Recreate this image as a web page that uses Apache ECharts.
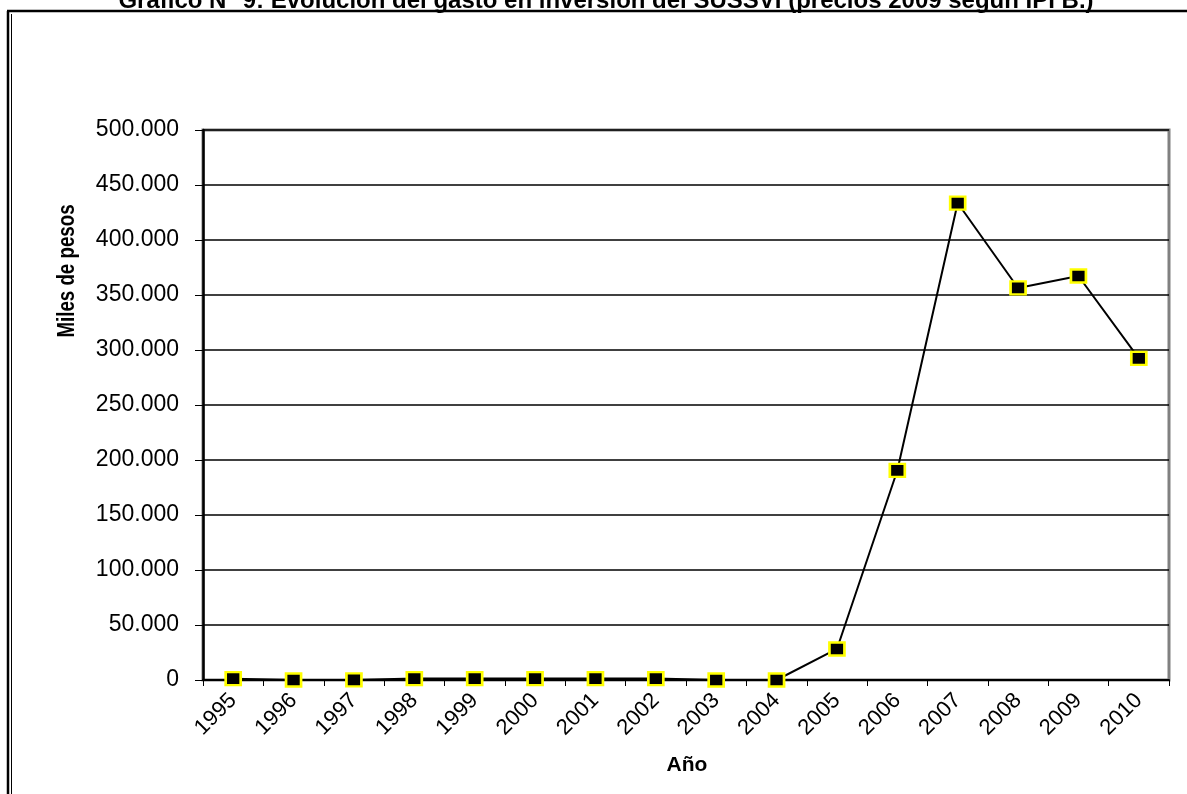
<!DOCTYPE html>
<html>
<head>
<meta charset="utf-8">
<script src="https://cdn.jsdelivr.net/npm/echarts@6/dist/echarts.min.js"></script>
<style>
  html, body { margin: 0; padding: 0; background: #fff; }
  #chart { width: 1187px; height: 794px; }
</style>
</head>
<body>
<div id="chart"></div>
<script>
// Investment spending, thousands of pesos (2009 prices)
const years = ['1995','1996','1997','1998','1999','2000','2001','2002','2003','2004','2005','2006','2007','2008','2009','2010'];
const gasto = [1200, 0, 100, 1300, 1300, 1300, 1300, 1300, 0, 0, 28200, 190500, 433600, 356400, 367300, 292400];
const yTicks = { min: 0, max: 500000, interval: 50000 };

const titleText = 'Gráfico N° 9: Evolución del gasto en inversión del SUSSVI (precios 2009 según IPI B.)';
const yName = 'Miles de pesos';
const xName = 'Año';

function fmtMiles(v) {
  return String(v).replace(/\B(?=(\d{3})+(?!\d))/g, '.');
}

const baseFont = '"Liberation Sans", Arial, sans-serif';

const chart = echarts.init(document.getElementById('chart'), null, { renderer: 'canvas' });

chart.setOption({
  backgroundColor: '#ffffff',
  animation: false,
  grid: {
    left: 203, top: 130, right: 18, bottom: 114,
    show: true,
    borderColor: '#808080',
    borderWidth: 3,
    backgroundColor: 'transparent'
  },
  graphic: [
    // document frame (double rule on left, rule on top)
    { type: 'line', shape: { x1: 8, y1: 11, x2: 8, y2: 794 }, style: { stroke: '#000', lineWidth: 2.5 } },
    { type: 'line', shape: { x1: 11.5, y1: 14, x2: 11.5, y2: 794 }, style: { stroke: '#000', lineWidth: 1 } },
    { type: 'line', shape: { x1: 7, y1: 11, x2: 1187, y2: 11 }, style: { stroke: '#000', lineWidth: 2.5 } },
    // caption, cut by the top edge of the page
    {
      type: 'text', x: 606, y: 13,
      style: {
        text: titleText,
        font: 'bold 24px ' + baseFont,
        fill: '#000',
        align: 'center',
        verticalAlign: 'bottom'
      }
    },
    // value axis caption, condensed
    {
      type: 'text', x: 67, y: 271, rotation: Math.PI / 2, scaleX: 0.78,
      style: {
        text: yName,
        font: 'bold 24px ' + baseFont,
        fill: '#000',
        align: 'center',
        verticalAlign: 'middle'
      }
    },
    // category axis caption
    {
      type: 'text', x: 687, y: 765,
      style: {
        text: xName,
        font: 'bold 21px ' + baseFont,
        fill: '#000',
        align: 'center',
        verticalAlign: 'middle'
      }
    }
  ],
  xAxis: {
    type: 'category',
    data: years,
    boundaryGap: true,
    axisLine: { show: true, lineStyle: { color: '#000', width: 2 } },
    axisTick: { show: true, alignWithLabel: false, length: 6, lineStyle: { color: '#000', width: 1 } },
    axisLabel: {
      rotate: 45, margin: 17, fontSize: 22, color: '#000',
      fontFamily: baseFont
    },
    splitLine: { show: false }
  },
  yAxis: {
    type: 'value',
    min: yTicks.min, max: yTicks.max, interval: yTicks.interval,
    axisLine: { show: true, lineStyle: { color: '#000', width: 2.5 } },
    axisTick: { show: true, inside: false, length: 8, lineStyle: { color: '#000', width: 1 } },
    axisLabel: {
      margin: 24, fontSize: 23, color: '#000',
      fontFamily: baseFont,
      formatter: fmtMiles
    },
    splitLine: { show: true, lineStyle: { color: '#000', width: 1.5 } }
  },
  series: [{
    type: 'line',
    data: gasto,
    symbol: 'rect',
    symbolSize: [15, 13],
    showAllSymbol: true,
    lineStyle: { color: '#000', width: 2 },
    itemStyle: { color: '#000', borderColor: '#ffff00', borderWidth: 2.5 },
    z: 5
  }]
});
</script>
</body>
</html>
